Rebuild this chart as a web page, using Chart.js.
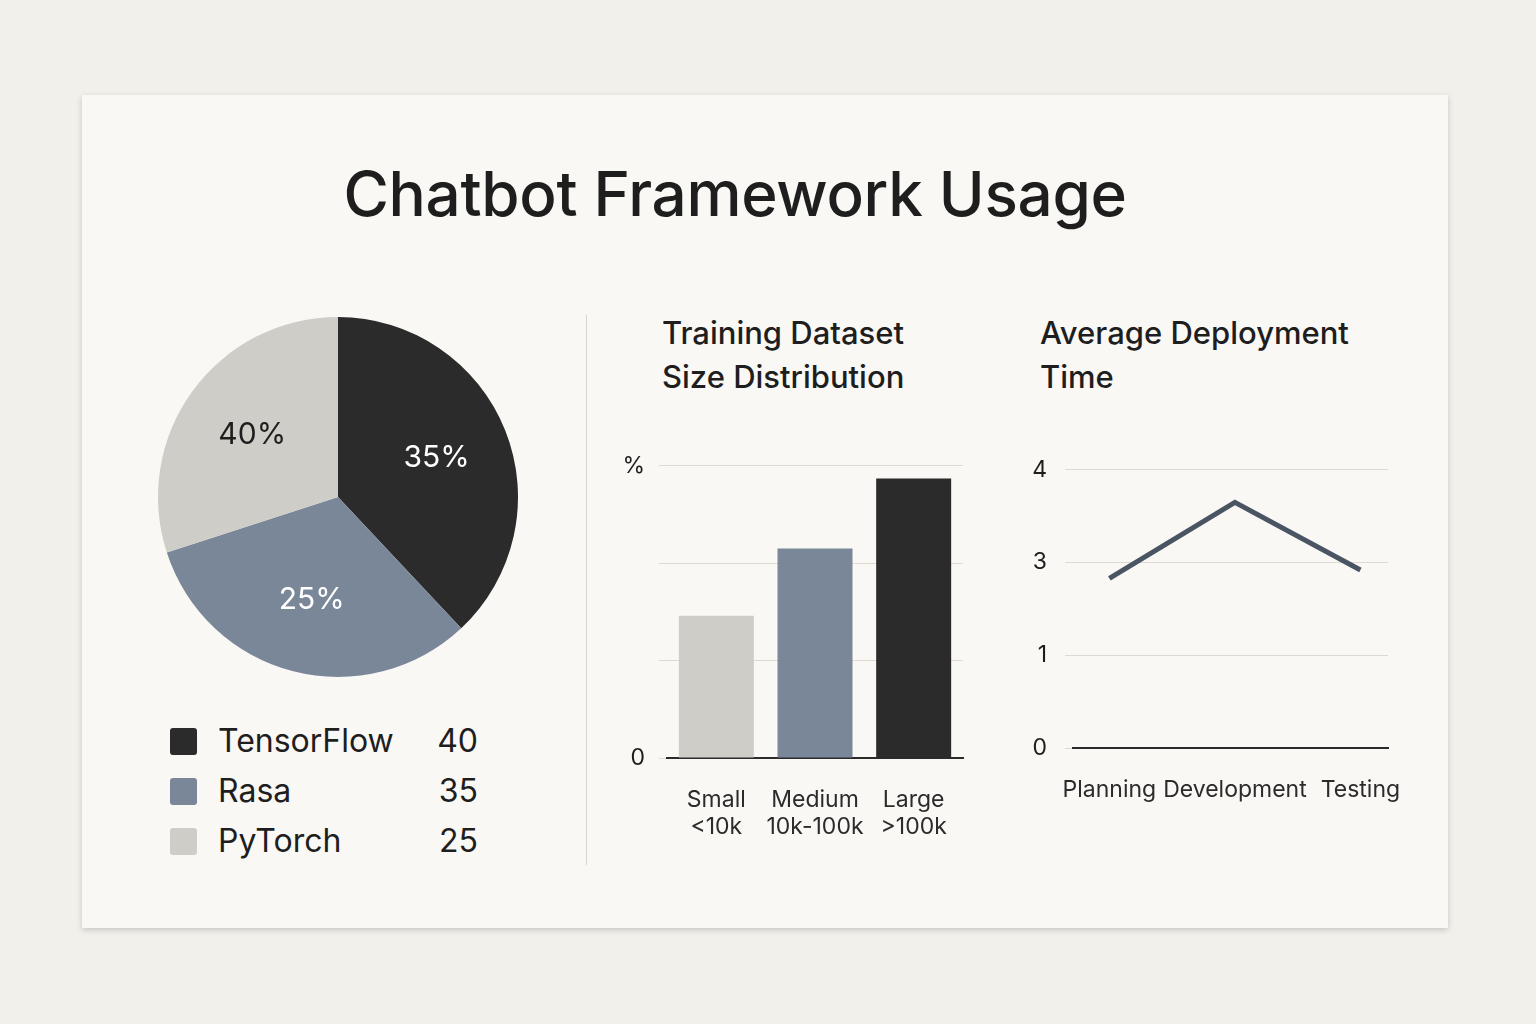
<!DOCTYPE html>
<html>
<head>
<meta charset="utf-8">
<script src="https://cdn.jsdelivr.net/npm/chart.js@4"></script>
<style>
  body { margin:0; width:1536px; height:1024px; background:#f2f0eb; font-family:Inter, "Noto Sans", sans-serif; color:#1e1e1e; position:relative; overflow:hidden; }
  .card { position:absolute; left:82px; top:95px; width:1366px; height:833px; background:#faf8f4; box-shadow:0 2px 6px rgba(0,0,0,0.18); }
  .abs { position:absolute; }
  h1 { position:absolute; left:0; width:1470px; top:156px; margin:0; text-align:center; font-size:62px; font-weight:500; letter-spacing:-0.3px; }
  .sub { font-size:31px; font-weight:500; line-height:44px; }
  .leg { font-size:32px; line-height:50px; }
  .sw { position:absolute; width:27px; height:27px; border-radius:3px; }
</style>
</head>
<body>
<div class="card"></div>
<h1>Chatbot Framework Usage</h1>
<div class="abs" style="left:586px;top:315px;width:1px;height:550px;background:#d8d5cf"></div>

<div class="abs" style="left:138px;top:297px;width:400px;height:400px"><canvas id="pie"></canvas></div>
<div id="legend"></div>

<div class="abs sub" style="left:662px;top:311px">Training Dataset<br>Size Distribution</div>
<div class="abs" style="left:617px;top:438px;width:360px;height:420px"><canvas id="bar"></canvas></div>

<div class="abs sub" style="left:1040px;top:311px">Average Deployment<br>Time</div>
<div class="abs" style="left:1023px;top:438px;width:400px;height:400px"><canvas id="line"></canvas></div>

<script>
// pie
const pieNames = ['TensorFlow', 'Rasa', 'PyTorch'];
const pieLegendValues = [40, 35, 25];
const pieValues = [38, 32, 30];
const pieLabels = ['35%', '25%', '40%'];
const pieColors = ['#2b2b2b', '#7a8799', '#cfcdc7'];
const pieLabelColors = ['#ffffff', '#ffffff', '#1e1e1e'];

// bars
const barCats = [['Small', '<10k'], ['Medium', '10k-100k'], ['Large', '>100k']];
const barValues = [14.6, 21.5, 28.7];
const barColors = ['#cfcdc7', '#7a8799', '#2b2b2b'];
const barTicks = { 0: '0', 30: '%' };

// line
const lineCats = ['Planning', 'Development', 'Testing'];
const lineValues = [1.83, 2.65, 1.92];
const lineTickLabels = ['0', '1', '3', '4'];

Chart.defaults.font.family = 'Inter, "Noto Sans", sans-serif';
Chart.defaults.color = '#1e1e1e';

// legend
const leg = document.getElementById('legend');
pieNames.forEach((n, i) => {
    const y = 716 + i * 50;
    leg.innerHTML += `<div class="sw" style="left:170px;top:${y + 12}px;background:${pieColors[i]}"></div>
      <div class="abs leg" style="left:218px;top:${y}px">${n}</div>
      <div class="abs leg" style="left:420px;width:58px;text-align:right;top:${y}px">${pieLegendValues[i]}</div>`;
});

const pieText = {
    id: 'pieText',
    afterDatasetsDraw(chart) {
        const ctx = chart.ctx;
        chart.getDatasetMeta(0).data.forEach((arc, i) => {
            const mid = (arc.startAngle + arc.endAngle) / 2;
            ctx.save();
            ctx.font = '30px Inter, sans-serif';
            ctx.fillStyle = pieLabelColors[i];
            ctx.textAlign = 'center';
            ctx.textBaseline = 'middle';
            ctx.fillText(pieLabels[i], arc.x + Math.cos(mid) * 106, arc.y + Math.sin(mid) * 106);
            ctx.restore();
        });
    }
};

new Chart(document.getElementById('pie'), {
    type: 'pie',
    data: { labels: pieNames, datasets: [{ data: pieValues, backgroundColor: pieColors, borderWidth: 0 }] },
    options: { responsive: true, maintainAspectRatio: false, animation: false, radius: 180,
        plugins: { legend: { display: false }, tooltip: { enabled: false } } },
    plugins: [pieText]
});

new Chart(document.getElementById('bar'), {
    type: 'bar',
    data: { labels: barCats, datasets: [{ data: barValues, backgroundColor: barColors, barPercentage: 0.76, categoryPercentage: 1 }] },
    options: { responsive: true, maintainAspectRatio: false, animation: false,
        layout: { padding: { top: 0, right: 14 } },
        plugins: { legend: { display: false }, tooltip: { enabled: false } },
        scales: {
            x: { grid: { display: false }, border: { display: true, color: '#2b2b2b', width: 2 },
                 ticks: { font: { size: 23 }, padding: 20, color: '#2b2b2b', maxRotation: 0, minRotation: 0, autoSkip: false },
                 afterFit: s => { s.height = 100; } },
            y: { min: 0, max: 30, ticks: { stepSize: 10, padding: 14, font: { size: 23 }, callback: v => barTicks[v] || '' },
                 grid: { color: '#dddad4' }, border: { display: false },
                 afterFit: s => { s.width = 50; } }
        } }
});

new Chart(document.getElementById('line'), {
    type: 'line',
    data: { datasets: [{ data: lineValues.map((v, i) => ({ x: i, y: v })), borderColor: '#4a5564', borderWidth: 5, pointRadius: 0, tension: 0 }] },
    options: { responsive: true, maintainAspectRatio: false, animation: false,
        layout: { padding: { top: 0, right: 33 } },
        plugins: { legend: { display: false }, tooltip: { enabled: false } },
        scales: {
            x: { type: 'linear', min: -0.29, max: 2.22, grid: { display: false }, border: { display: true, color: '#2b2b2b', width: 2 },
                 afterBuildTicks: s => { s.ticks = [{ value: 0 }, { value: 1 }, { value: 2 }]; },
                 ticks: { font: { size: 23 }, padding: 20, color: '#2b2b2b', maxRotation: 0, minRotation: 0, autoSkip: false, callback: v => lineCats[v] },
                 afterFit: s => { s.height = 90; } },
            y: { min: 0, max: 3, ticks: { stepSize: 1, padding: 18, font: { size: 23 }, callback: v => lineTickLabels[v] },
                 grid: { color: '#dddad4' }, border: { display: false },
                 afterFit: s => { s.width = 50; } }
        } }
});
</script>
</body>
</html>
